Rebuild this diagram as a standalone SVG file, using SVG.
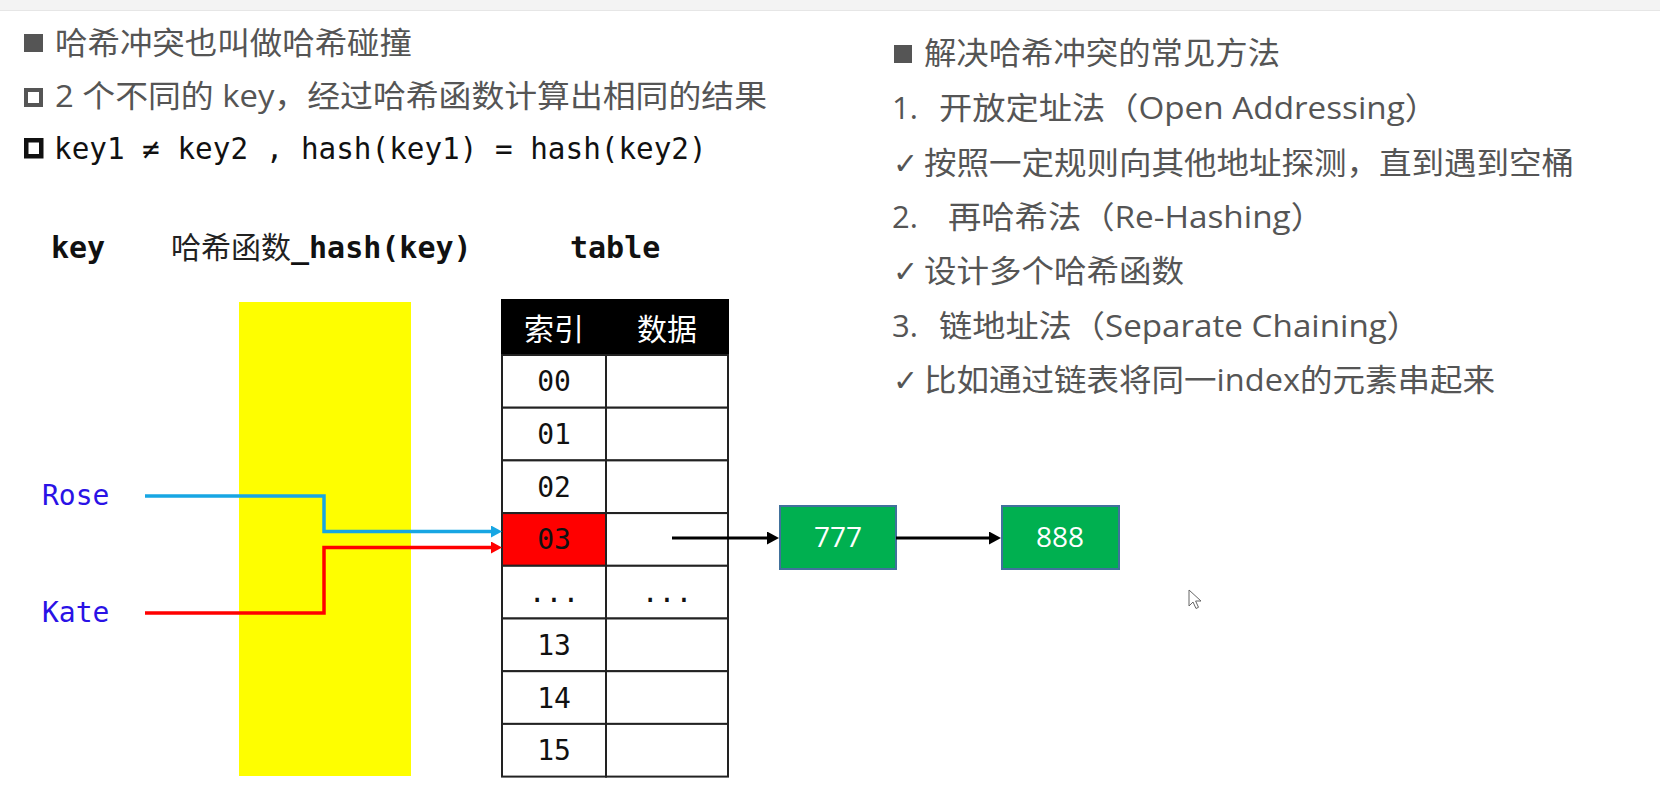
<svg xmlns="http://www.w3.org/2000/svg" width="1660" height="793" viewBox="0 0 1660 793">
<style>
.t{font-family:"Open Sans","Noto Sans CJK SC",sans-serif;font-size:31px;fill:#555}
.mono{font-family:"DejaVu Sans Mono","Noto Sans CJK SC",monospace}
.hd{font-size:30px;font-weight:bold;fill:#111}
.idx{font-size:28px;fill:#111;text-anchor:middle}
.chk{font-family:"DejaVu Sans",sans-serif;font-size:30px;fill:#555}
.cell{fill:#fff;stroke:#222;stroke-width:2}
.node rect{fill:#00b050;stroke:#41719c;stroke-width:2}
.node text{font-family:"Open Sans",sans-serif;font-size:28px;fill:#fff;text-anchor:middle}
.key{font-size:28px;fill:#2a12e6}
</style>
<defs>
<marker id="ab" markerWidth="11" markerHeight="12" refX="0" refY="6" orient="auto" markerUnits="userSpaceOnUse"><path d="M0,0 L11,6 L0,12 Z" fill="#17a6e3"/></marker>
<marker id="ar" markerWidth="11" markerHeight="12" refX="0" refY="6" orient="auto" markerUnits="userSpaceOnUse"><path d="M0,0 L11,6 L0,12 Z" fill="#ff0000"/></marker>
<marker id="ak" markerWidth="12" markerHeight="13" refX="0" refY="6.5" orient="auto" markerUnits="userSpaceOnUse"><path d="M0,0 L12,6.5 L0,13 Z" fill="#000"/></marker>
</defs>
<rect width="1660" height="793" fill="#fff"/>
<rect width="1660" height="10" fill="#f3f3f3"/>
<line x1="0" y1="10.5" x2="1660" y2="10.5" stroke="#e6e6e6" stroke-width="1"/>

<g id="left-text">
<rect x="24" y="34" width="19" height="18" fill="#555"/>
<text class="t" x="55" y="54" textLength="357" lengthAdjust="spacingAndGlyphs">哈希冲突也叫做哈希碰撞</text>
<rect x="26" y="90" width="15" height="15" fill="none" stroke="#555" stroke-width="4"/>
<text class="t" x="55" y="107" textLength="712" lengthAdjust="spacingAndGlyphs">2 个不同的 key，经过哈希函数计算出相同的结果</text>
<rect x="26.25" y="140.25" width="15" height="16" fill="none" stroke="#111" stroke-width="4.5"/>
<text class="mono" x="54" y="159" font-size="29.3" fill="#111" xml:space="preserve">key1 ≠ key2 , hash(key1) = hash(key2)</text>
</g>

<g id="right-text">
<rect x="894" y="45" width="18" height="18" fill="#555"/>
<text class="t" x="924" y="64" textLength="356" lengthAdjust="spacingAndGlyphs">解决哈希冲突的常见方法</text>
<text class="t" x="892" y="119">1.<tspan x="939" textLength="499" lengthAdjust="spacingAndGlyphs">开放定址法（Open Addressing）</tspan></text>
<text class="chk" x="893" y="174">✓</text>
<text class="t" x="924" y="174" textLength="650" lengthAdjust="spacingAndGlyphs">按照一定规则向其他地址探测，直到遇到空桶</text>
<text class="t" x="892" y="228">2.<tspan x="948" textLength="376" lengthAdjust="spacingAndGlyphs">再哈希法（Re-Hashing）</tspan></text>
<text class="chk" x="893" y="282">✓</text>
<text class="t" x="924" y="282" textLength="260" lengthAdjust="spacingAndGlyphs">设计多个哈希函数</text>
<text class="t" x="892" y="337">3.<tspan x="939" textLength="481" lengthAdjust="spacingAndGlyphs">链地址法（Separate Chaining）</tspan></text>
<text class="chk" x="893" y="391">✓</text>
<text class="t" x="924" y="391" textLength="571" lengthAdjust="spacingAndGlyphs">比如通过链表将同一index的元素串起来</text>
</g>

<g id="headings">
<text class="mono hd" x="51" y="258">key</text>
<text class="mono hd" x="171" y="258"><tspan font-family="Noto Sans CJK SC,sans-serif" font-weight="normal" fill="#222">哈希函数</tspan>_hash(key)</text>
<text class="mono hd" x="570" y="258">table</text>
</g>

<g id="hash-function">
<rect x="239" y="302" width="172" height="474" fill="#fefe00"/>
</g>

<g id="keys">
<text class="mono key" x="42" y="505">Rose</text>
<text class="mono key" x="42" y="622">Kate</text>
</g>

<g id="table">
<rect x="502" y="300" width="226" height="55" fill="#000" stroke="#000" stroke-width="2"/>
<text x="554" y="340" font-family="Noto Sans CJK SC,sans-serif" font-size="30" fill="#fff" text-anchor="middle">索引</text>
<text x="667" y="340" font-family="Noto Sans CJK SC,sans-serif" font-size="30" fill="#fff" text-anchor="middle">数据</text>
<rect class="cell" x="502" y="355" width="104" height="52.7"/><rect class="cell" x="606" y="355" width="122" height="52.7"/>
<rect class="cell" x="502" y="407.7" width="104" height="52.7"/><rect class="cell" x="606" y="407.7" width="122" height="52.7"/>
<rect class="cell" x="502" y="460.4" width="104" height="52.7"/><rect class="cell" x="606" y="460.4" width="122" height="52.7"/>
<rect class="cell" x="502" y="513.1" width="104" height="52.7" style="fill:#ff0000"/><rect class="cell" x="606" y="513.1" width="122" height="52.7"/>
<rect class="cell" x="502" y="565.8" width="104" height="52.7"/><rect class="cell" x="606" y="565.8" width="122" height="52.7"/>
<rect class="cell" x="502" y="618.5" width="104" height="52.7"/><rect class="cell" x="606" y="618.5" width="122" height="52.7"/>
<rect class="cell" x="502" y="671.2" width="104" height="52.7"/><rect class="cell" x="606" y="671.2" width="122" height="52.7"/>
<rect class="cell" x="502" y="723.9" width="104" height="52.7"/><rect class="cell" x="606" y="723.9" width="122" height="52.7"/>
<text class="mono idx" x="554" y="391">00</text>
<text class="mono idx" x="554" y="444">01</text>
<text class="mono idx" x="554" y="497">02</text>
<text class="mono idx" x="554" y="549">03</text>
<text class="mono idx" x="554" y="602">...</text>
<text class="mono idx" x="667" y="602">...</text>
<text class="mono idx" x="554" y="655">13</text>
<text class="mono idx" x="554" y="708">14</text>
<text class="mono idx" x="554" y="760">15</text>
</g>

<g id="node-777" class="node">
<rect x="780" y="506" width="116" height="63"/>
<text x="838" y="547">777</text>
</g>
<g id="node-888" class="node">
<rect x="1002" y="506" width="117" height="63"/>
<text x="1060" y="547">888</text>
</g>

<g id="connectors" fill="none">
<path d="M145,496 H324 V531.5 H491" stroke="#17a6e3" stroke-width="3.5" marker-end="url(#ab)"/>
<path d="M145,613 H324 V547.5 H491" stroke="#ff0000" stroke-width="3.5" marker-end="url(#ar)"/>
<path d="M672,538 H767" stroke="#000" stroke-width="3" marker-end="url(#ak)"/>
<path d="M896,538 H989" stroke="#000" stroke-width="3" marker-end="url(#ak)"/>
</g>

<path d="M1189,590 L1189,606 L1193,602 L1196,608.5 L1198.5,607.3 L1195.6,601 L1201,601 Z" fill="#fff" stroke="#666" stroke-width="1"/>
</svg>
